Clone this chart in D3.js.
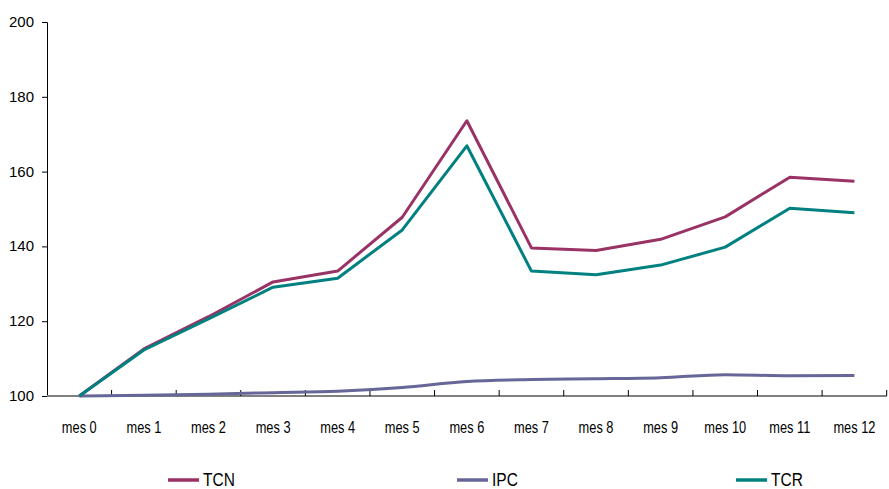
<!DOCTYPE html>
<html><head><meta charset="utf-8">
<script src="https://cdn.jsdelivr.net/npm/d3@7"></script>
<style>
body{margin:0;background:#fff;}
text{fill:#000;font-family:"Liberation Sans",Arial,sans-serif;}
.ylab text{font-size:15px;}
.xlab text{font-size:16px;}
text.leg{font-size:18px;}
</style></head>
<body><svg id="c" width="889" height="489"></svg>
<script>
const categories = ["mes 0","mes 1","mes 2","mes 3","mes 4","mes 5","mes 6","mes 7","mes 8","mes 9","mes 10","mes 11","mes 12"];
const tcn = [100,112.6,121.2,130.5,133.4,147.8,173.6,139.6,138.9,141.9,147.9,158.5,157.4];
const ipc = [100,100.2,100.5,100.9,101.3,102.3,103.9,104.4,104.6,104.9,105.7,105.4,105.5];
const tcr = [100,112.3,120.6,129.1,131.5,144.4,166.9,133.4,132.4,135.0,139.8,150.2,149.0];
const yTicks = [100,120,140,160,180,200];
const seriesNames = ["TCN","IPC","TCR"];
const colors = {TCN:"#993366",IPC:"#666699",TCR:"#008080"};

const svg = d3.select("#c");
const x = d3.scaleBand().domain(categories).range([47,886.7]);
const y = d3.scaleLinear().domain([100,200]).range([396,22]);

function squish(sel, f){
  sel.each(function(){
    const w = this.getComputedTextLength();
    d3.select(this).attr("textLength", w*f).attr("lengthAdjust","spacingAndGlyphs");
  });
}

// y axis
const ya = svg.append("g").attr("class","ylab").attr("transform","translate(47,0)")
  .call(d3.axisLeft(y).tickValues(yTicks).tickSize(5).tickPadding(8).tickFormat(d3.format("d")));
ya.select(".domain").attr("stroke","#000").attr("stroke-width",1);
ya.selectAll(".tick line").attr("stroke","#000");
ya.selectAll("text").attr("font-size",null).attr("font-family",null).attr("dy","0.3em");

// x axis
const xa = svg.append("g").attr("class","xlab").attr("transform","translate(0,396)")
  .call(d3.axisBottom(x).tickSize(0).tickPadding(26));
xa.select(".domain").remove();
xa.selectAll("text").attr("font-size",null).attr("font-family",null);
squish(xa.selectAll("text"), 0.8);
svg.append("line").attr("x1",47).attr("x2",886.7).attr("y1",396).attr("y2",396)
  .attr("stroke","#808080").attr("stroke-width",2);
const bounds = categories.map((c,i)=>x(c)).concat([x.range()[1]]).slice(1);
svg.selectAll(".xt").data(bounds).enter().append("line")
  .attr("x1",d=>d).attr("x2",d=>d).attr("y1",390).attr("y2",396)
  .attr("stroke","#000").attr("stroke-width",1);

const data = {TCN:tcn, IPC:ipc, TCR:tcr};
const cx = c => x(c)+x.bandwidth()/2;
["IPC","TCN","TCR"].forEach(n=>{
  const line = d3.line().x((d,i)=>cx(categories[i])).y(d=>y(d))
    .curve(n==="IPC"?d3.curveMonotoneX:d3.curveLinear);
  svg.append("path").attr("d",line(data[n])).attr("fill","none")
    .attr("stroke",colors[n]).attr("stroke-width",3).attr("stroke-linejoin","round");
});

// legend
const legX = [168,457,736];
seriesNames.forEach((n,i)=>{
  svg.append("line").attr("x1",legX[i]).attr("x2",legX[i]+31).attr("y1",480).attr("y2",480)
    .attr("stroke",colors[n]).attr("stroke-width",3.5);
  const t = svg.append("text").attr("class","leg").attr("x",legX[i]+35).attr("y",486).text(n);
  squish(t, 0.86);
});
</script></body></html>
